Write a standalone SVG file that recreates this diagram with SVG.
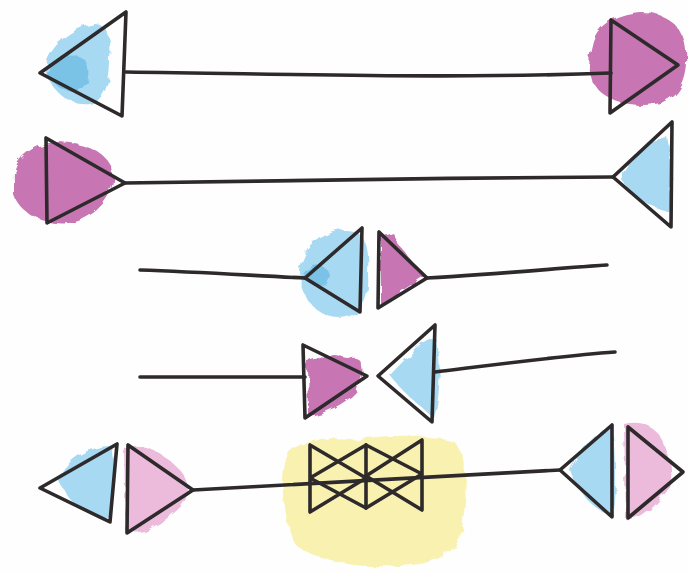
<svg xmlns="http://www.w3.org/2000/svg" width="688" height="572" viewBox="0 0 688 572">
<style>
.ink{fill:none;stroke:#2e2a2c;stroke-width:3.6;stroke-linecap:round;stroke-linejoin:round}
.blue{fill:#6cc2ea;opacity:.6}
.blue2{fill:#3a9fd6;opacity:.4}
.mag{fill:#b4459a;opacity:.75}
.pink{fill:#e49ccb;opacity:.7}
.yel{fill:#f8ee9c;opacity:.8}
</style>
<defs>
<filter id="wc" x="-10%" y="-10%" width="120%" height="120%">
<feTurbulence type="fractalNoise" baseFrequency="0.08" numOctaves="2" seed="3" result="n"/>
<feDisplacementMap in="SourceGraphic" in2="n" scale="7"/>
</filter>
</defs>
<rect width="688" height="572" fill="#fefefe"/>
<g id="washes" filter="url(#wc)">
<path class="blue" d="M44,70 C50,45 70,28 95,24 C108,24 112,40 110,60 C110,85 104,100 90,104 C70,106 55,95 44,70 Z"/>
<path class="blue2" d="M46,72 C55,58 70,50 85,60 C92,72 88,88 75,92 C62,92 52,84 46,72 Z"/>
<path class="mag" d="M592,45 C596,25 615,14 640,12 C665,12 684,25 686,50 C688,75 680,100 655,104 C630,108 600,100 592,80 C588,68 589,55 592,45 Z"/>
<path class="mag" d="M14,180 C12,160 30,145 55,142 C80,142 105,150 112,168 C118,190 100,215 75,222 C50,228 20,215 14,195 Z"/>
<path class="blue" d="M622,172 C630,155 648,140 668,138 C673,160 672,195 668,212 C650,208 632,195 622,180 Z"/>
<path class="blue" d="M300,272 C302,250 320,232 345,230 C365,230 370,245 368,275 C370,300 360,318 338,318 C315,316 300,295 300,272 Z"/>
<path class="blue2" d="M302,275 C312,262 325,262 330,275 C328,290 315,292 302,275 Z"/>
<path class="mag" d="M381,236 L392,232 L398,244 L424,276 L381,305 Z"/>
<path class="mag" d="M307,360 C315,352 322,362 330,358 C338,352 345,362 352,358 C360,356 364,366 362,376 L356,392 C345,404 325,414 308,416 Z"/>
<path class="blue" d="M390,375 C405,360 420,342 436,338 C442,360 440,400 434,418 C418,404 400,390 390,375 Z"/>
<path class="blue" d="M58,478 C68,458 90,446 112,446 C116,470 114,500 110,518 C88,518 66,502 58,478 Z"/>
<path class="pink" d="M124,448 C145,440 165,455 180,470 C192,485 190,500 175,512 C160,525 140,536 126,532 Z"/>
<path class="blue" d="M570,470 C580,450 595,432 612,426 C616,455 616,495 612,515 C592,510 578,492 570,470 Z"/>
<path class="pink" d="M624,424 C640,420 655,425 662,440 C672,460 676,480 664,495 C652,510 638,522 626,520 Z"/>
<path class="yel" d="M286,458 C292,442 318,438 350,440 C380,436 420,432 455,442 C470,460 466,500 462,530 C458,555 430,566 395,566 C360,568 315,562 296,545 C282,520 280,485 286,458 Z"/>
</g>
<g id="connectors" class="ink">
<path d="M126,72 C300,74 450,79 611,73"/>
<path d="M125,183 C300,180 450,178 613,177"/>
<path d="M140,270 C200,272 260,276 305,278"/>
<path d="M427,278 C500,274 560,268 607,265"/>
<path d="M140,377 C200,377 260,377 305,377"/>
<path d="M435,372 C500,364 560,356 615,352"/>
<path d="M193,490 C300,484 450,476 560,470"/>
</g>
<g id="tri-r1-left" class="ink"><path d="M126,12 L122,116 L40,73 Z"/></g>
<g id="tri-r1-right" class="ink"><path d="M611,20 L610,113 L678,65 Z"/></g>
<g id="tri-r2-left" class="ink"><path d="M46,138 L47,223 L125,183 Z"/></g>
<g id="tri-r2-right" class="ink"><path d="M672,122 L671,227 L613,177 Z"/></g>
<g id="tri-r3-left" class="ink"><path d="M362,228 L360,312 L305,278 Z"/></g>
<g id="tri-r3-right" class="ink"><path d="M379,232 L378,308 L427,278 Z"/></g>
<g id="tri-r4-left" class="ink"><path d="M303,345 L305,418 L367,376 Z"/></g>
<g id="tri-r4-right" class="ink"><path d="M435,325 L432,422 L378,376 Z"/></g>
<g id="tri-r5-a" class="ink"><path d="M117,444 L110,522 L40,488 Z"/></g>
<g id="tri-r5-b" class="ink"><path d="M128,445 L127,533 L193,490 Z"/></g>
<g id="bowtie-1" class="ink"><path d="M310,445 L310,512 M366,445 L366,508 M310,445 L366,478 L310,512 M366,445 L310,478 L366,508"/></g>
<g id="bowtie-2" class="ink"><path d="M422,440 L422,510 M366,445 L422,474 L366,508 M422,440 L366,476 L422,510"/></g>
<g id="tri-r5-c" class="ink"><path d="M612,425 L612,517 L560,470 Z"/></g>
<g id="tri-r5-d" class="ink"><path d="M628,427 L628,518 L683,472 Z"/></g>
</svg>
